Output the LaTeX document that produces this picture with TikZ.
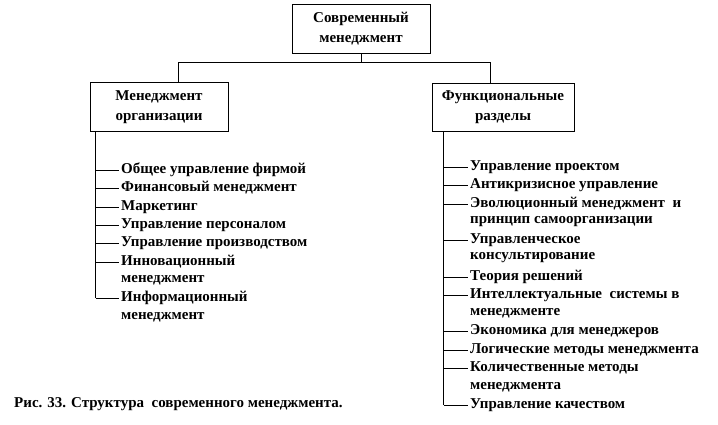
\documentclass[tikz,border=0pt]{standalone}
\usepackage{fontspec}
\setmainfont{Liberation Serif}
\begin{document}
\begin{tikzpicture}[x=1pt,y=-1pt,
  box/.style={draw, line width=0.8pt, minimum width=138pt, minimum height=49pt, align=center, inner sep=0pt,
    font=\fontsize{15}{20}\selectfont\bfseries},
  item/.style={anchor=west, inner sep=1pt, font=\fontsize{15}{18}\selectfont\bfseries},
  ln/.style={line width=0.7pt}]
\useasboundingbox (0,0) rectangle (718,424);
\node[box] (top) at (361,28.5) {Современный\\менеджмент};
\node[box] (org) at (159,107) {Менеджмент\\организации};
\node[box, minimum width=142pt, minimum height=48pt] (fun) at (503,107) {Функциональные\\разделы};
\coordinate (j) at (361,62);
\draw[ln] (top.south) -- (j);
\draw[ln] (j) -| ([xshift=19pt]org.north);
\draw[ln] (j) -| ([xshift=-13pt]fun.north);
% left items
\node[item] (a1) at (120,170) {Общее управление фирмой};
\node[item] (a2) at (120,188) {Финансовый менеджмент};
\node[item] (a3) at (120,207) {Маркетинг};
\node[item] (a4) at (120,225) {Управление персоналом};
\node[item] (a5) at (120,243) {Управление производством};
\node[item] (a6) at (120,262) {Инновационный};
\node[item] (a6b) at (120,280) {менеджмент};
\node[item] (a7) at (120,298) {Информационный};
\node[item] (a7b) at (120,317) {менеджмент};
\coordinate (av) at ([xshift=6pt]org.south west);
\draw[ln] (av) -- (av |- a7.west);
\foreach \n in {a1,a2,a3,a4,a5,a6,a7} \draw[ln] (av |- \n.west) -- ([xshift=-1pt]\n.west);
% right items
\node[item] (b1) at (469,167) {Управление проектом};
\node[item] (b2) at (469,185) {Антикризисное управление};
\node[item] (b3) at (469,204) {Эволюционный менеджмент~ и};
\node[item] (b3b) at (469,222) {принцип самоорганизации};
\node[item] (b4) at (469,240) {Управленческое};
\node[item] (b4b) at (469,258) {консультирование};
\node[item] (b5) at (469,277) {Теория решений};
\node[item] (b6) at (469,295) {Интеллектуальные~ системы в};
\node[item] (b6b) at (469,313) {менеджменте};
\node[item] (b7) at (469,331) {Экономика для менеджеров};
\node[item] (b8) at (469,350) {Логические методы менеджмента};
\node[item] (b9) at (469,368) {Количественные методы};
\node[item] (b9b) at (469,387) {менеджмента};
\node[item] (b10) at (469,405) {Управление качеством};
\coordinate (bv) at ([xshift=12pt]fun.south west);
\draw[ln] (bv) -- (bv |- b10.west);
\foreach \n in {b1,b2,b3,b4,b5,b6,b7,b8,b9,b10} \draw[ln] (bv |- \n.west) -- ([xshift=-1pt]\n.west);
% caption
\node[item, font=\fontsize{15}{17}\selectfont\bfseries] (cap) at (13,404) {Рис. 33. Структура~ современного менеджмента.};
\end{tikzpicture}
\end{document}
